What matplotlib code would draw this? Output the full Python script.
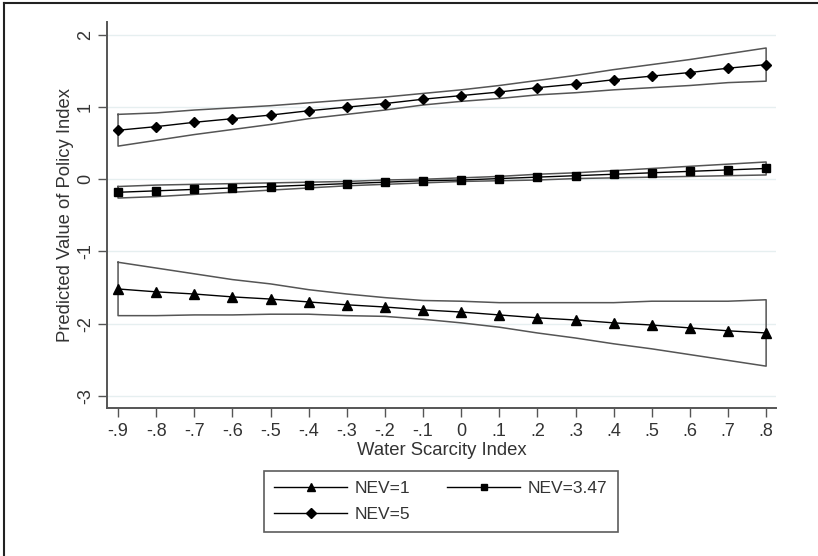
import matplotlib
matplotlib.use("Agg")
import matplotlib.pyplot as plt
from matplotlib.lines import Line2D

plt.rcParams["font.family"] = ["Liberation Sans", "DejaVu Sans"]

# Water scarcity index grid
x_vals = [-0.9, -0.8, -0.7, -0.6, -0.5, -0.4, -0.3, -0.2, -0.1,
          0.0, 0.1, 0.2, 0.3, 0.4, 0.5, 0.6, 0.7, 0.8]
x_tick_labels = ["-.9", "-.8", "-.7", "-.6", "-.5", "-.4", "-.3", "-.2", "-.1",
                 "0", ".1", ".2", ".3", ".4", ".5", ".6", ".7", ".8"]
y_ticks = [-3, -2, -1, 0, 1, 2]

# NEV=1 (triangles)
nev1_mean = [-1.52, -1.56, -1.59, -1.63, -1.66, -1.70, -1.74, -1.77, -1.81,
             -1.84, -1.88, -1.92, -1.95, -1.99, -2.02, -2.06, -2.10, -2.13]
nev1_upper = [-1.15, -1.23, -1.31, -1.39, -1.45, -1.53, -1.59, -1.64, -1.68,
              -1.69, -1.71, -1.71, -1.71, -1.71, -1.69, -1.69, -1.69, -1.67]
nev1_lower = [-1.89, -1.89, -1.88, -1.88, -1.87, -1.87, -1.89, -1.90, -1.94,
              -1.99, -2.05, -2.13, -2.20, -2.28, -2.35, -2.43, -2.51, -2.59]

# NEV=3.47 (squares)
nev347_mean = [-0.18, -0.16, -0.14, -0.12, -0.10, -0.08, -0.06, -0.04, -0.02,
               -0.01, 0.01, 0.03, 0.05, 0.07, 0.09, 0.11, 0.13, 0.15]
nev347_upper = [-0.10, -0.08, -0.07, -0.06, -0.05, -0.04, -0.03, -0.01, 0.00,
                0.02, 0.04, 0.07, 0.09, 0.12, 0.15, 0.18, 0.21, 0.24]
nev347_lower = [-0.26, -0.24, -0.21, -0.18, -0.15, -0.12, -0.09, -0.07, -0.05,
                -0.03, -0.02, -0.01, 0.01, 0.02, 0.03, 0.04, 0.05, 0.06]

# NEV=5 (diamonds)
nev5_mean = [0.68, 0.73, 0.79, 0.84, 0.89, 0.95, 1.00, 1.05, 1.11,
             1.16, 1.21, 1.27, 1.32, 1.38, 1.43, 1.48, 1.54, 1.59]
nev5_upper = [0.90, 0.92, 0.96, 0.99, 1.02, 1.06, 1.10, 1.14, 1.19,
              1.24, 1.30, 1.37, 1.44, 1.52, 1.59, 1.66, 1.74, 1.82]
nev5_lower = [0.46, 0.54, 0.62, 0.69, 0.76, 0.84, 0.90, 0.96, 1.03,
              1.08, 1.12, 1.17, 1.20, 1.24, 1.27, 1.30, 1.34, 1.36]

text_color = "#333333"
band_color = "#555555"

fig = plt.figure(figsize=(8.18, 5.56), dpi=100)
ax = fig.add_axes([0.1308, 0.2662, 0.8179, 0.6942])

for yt in y_ticks:
    ax.axhline(yt, color="#e6eff0", lw=1.0, zorder=0)


def draw_band(upper, lower):
    # closed outline of the confidence interval
    xs = x_vals + x_vals[::-1] + [x_vals[0]]
    ys = upper + lower[::-1] + [upper[0]]
    ax.plot(xs, ys, color=band_color, lw=1.1, zorder=2)


draw_band(nev1_upper, nev1_lower)
draw_band(nev347_upper, nev347_lower)
draw_band(nev5_upper, nev5_lower)

h1, = ax.plot(x_vals, nev1_mean, color="black", lw=1.0, marker="^",
              markersize=7, zorder=3, label="NEV=1")
h2, = ax.plot(x_vals, nev347_mean, color="black", lw=1.0, marker="s",
              markersize=5.3, zorder=3, label="NEV=3.47")
h3, = ax.plot(x_vals, nev5_mean, color="black", lw=1.0, marker="D",
              markersize=5.6, zorder=3, label="NEV=5")

ax.set_xlim(-0.929, 0.826)
ax.set_ylim(-3.17, 2.18)
ax.set_xticks(x_vals)
ax.set_xticklabels(x_tick_labels)
ax.set_yticks(y_ticks)
ax.set_yticklabels([str(v) for v in y_ticks], rotation=90, va="center")

for side in ["top", "right"]:
    ax.spines[side].set_visible(False)
for side in ["left", "bottom"]:
    ax.spines[side].set_color("#555555")
    ax.spines[side].set_linewidth(1.4)

ax.tick_params(axis="both", colors="#555555", labelcolor=text_color,
               labelsize=13, length=6.5, width=1.0)
ax.tick_params(axis="x", pad=4)
ax.tick_params(axis="y", pad=3)

ax.set_xlabel("Water Scarcity Index", fontsize=13.3, color=text_color,
              labelpad=2)
ax.set_ylabel("Predicted Value of Policy Index", fontsize=13.3, color=text_color,
              labelpad=2)

# column-major fill: NEV=1 / NEV=5 in col 1, NEV=3.47 in col 2
leg = fig.legend(handles=[h1, h3, h2], loc="center", ncol=2,
                 bbox_to_anchor=(0.539, 0.098), fontsize=12.5, frameon=True,
                 fancybox=False, handlelength=4.2, handletextpad=0.45,
                 columnspacing=2.1, labelspacing=0.6, borderpad=0.6,
                 borderaxespad=0, numpoints=1, markerscale=0.85)
leg.get_frame().set_edgecolor("#333333")
leg.get_frame().set_linewidth(1.2)
for t in leg.get_texts():
    t.set_color(text_color)

# screenshot frame lines along the top and left edges
fig.add_artist(Line2D([0.005, 1.0], [0.9946, 0.9946], color="#222222", lw=1.5,
                      transform=fig.transFigure))
fig.add_artist(Line2D([0.0055, 0.0055], [0.0, 0.9946], color="#222222", lw=1.5,
                      transform=fig.transFigure))

fig.savefig("out.png", dpi=100)
